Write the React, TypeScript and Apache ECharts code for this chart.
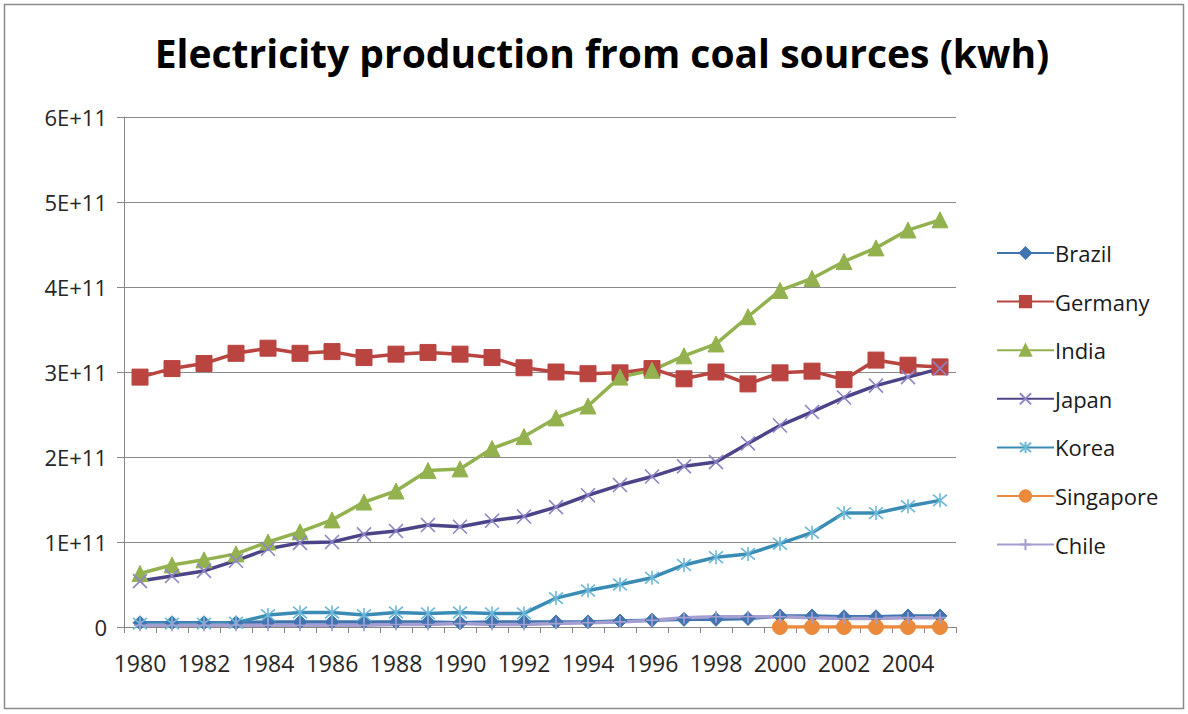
import React, { useEffect, useRef } from "react";
import * as echarts from "echarts";

const years: string[] = [
  "1980","1981","1982","1983","1984","1985","1986","1987","1988","1989",
  "1990","1991","1992","1993","1994","1995","1996","1997","1998","1999",
  "2000","2001","2002","2003","2004","2005",
];

// values in units of 1E+11 kWh
const brazil = [0.05,0.05,0.05,0.05,0.06,0.06,0.06,0.06,0.06,0.06,0.05,0.06,0.06,0.06,0.06,0.07,0.08,0.09,0.09,0.10,0.13,0.13,0.12,0.12,0.13,0.13];
const germany = [2.94,3.04,3.10,3.22,3.28,3.22,3.24,3.17,3.21,3.23,3.21,3.17,3.05,3.00,2.98,2.99,3.04,2.92,3.00,2.86,2.99,3.01,2.91,3.14,3.08,3.06];
const india = [0.63,0.73,0.79,0.86,1.00,1.12,1.26,1.47,1.60,1.84,1.86,2.10,2.24,2.46,2.60,2.94,3.02,3.19,3.33,3.65,3.96,4.10,4.30,4.46,4.67,4.79];
const japan = [0.54,0.60,0.66,0.78,0.92,0.99,1.00,1.09,1.13,1.20,1.18,1.25,1.30,1.41,1.55,1.67,1.77,1.89,1.94,2.16,2.37,2.53,2.70,2.84,2.94,3.04];
const korea = [0.04,0.04,0.04,0.05,0.14,0.17,0.17,0.14,0.17,0.16,0.17,0.16,0.16,0.34,0.43,0.50,0.58,0.73,0.82,0.86,0.98,1.11,1.34,1.34,1.42,1.49];
const singapore = [null,null,null,null,null,null,null,null,null,null,null,null,null,null,null,null,null,null,null,null,0,0,0,0,0,0];
const chile = [0.02,0.02,0.02,0.02,0.02,0.02,0.02,0.02,0.03,0.03,0.04,0.03,0.03,0.04,0.05,0.06,0.08,0.11,0.12,0.12,0.12,0.11,0.10,0.10,0.11,0.11];

const yTicks = ["0", "1E+11", "2E+11", "3E+11", "4E+11", "5E+11", "6E+11"];

const SCALE = 1e11;
const FONT = "'Open Sans', Lato, sans-serif";

const X_SYM = "path://M0 0L10 10M10 0L0 10";
const STAR_SYM = "path://M0 0L10 10M10 0L0 10M5 -1L5 11";
const PLUS_SYM = "path://M5 0L5 10M2 5L8 5";

function toVals(arr: (number | null)[]) {
  return arr.map((v) => (v === null ? null : v * SCALE));
}

export default function App() {
  const ref = useRef<HTMLDivElement>(null);
  useEffect(() => {
    document.body.style.margin = "0";
    if (!ref.current) return;
    const chart = echarts.init(ref.current, null, { renderer: "svg" });

    const mk = (
      name: string,
      data: (number | null)[],
      color: string,
      symbol: string,
      symbolSize: number,
      stroke?: string
    ) => ({
      name,
      type: "line",
      data: toVals(data),
      symbol,
      symbolSize,
      showSymbol: true,
      lineStyle: { color, width: 3.5 },
      itemStyle: stroke
        ? { color: "rgba(0,0,0,0)", borderColor: stroke, borderWidth: 1.6 }
        : { color, borderColor: color, borderWidth: 1 },
      emphasis: { disabled: true },
    });

    const option: any = {
      animation: false,
      backgroundColor: "#ffffff",
      title: {
        text: "Electricity production from coal sources (kwh)",
        left: 597,
        textAlign: "center",
        top: 28,
        textStyle: {
          fontFamily: FONT,
          fontWeight: "bold",
          fontSize: 39,
          color: "#000000",
        },
      },
      graphic: [
        {
          type: "rect",
          shape: { x: 4.5, y: 4.5, width: 1179, height: 704 },
          style: { fill: "none", stroke: "#8a8a8a", lineWidth: 1.5 },
          silent: true,
        },
      ],
      grid: { left: 124, right: 232, top: 117, bottom: 87, containLabel: false },
      legend: {
        orient: "vertical",
        left: 991,
        top: 236,
        itemWidth: 57,
        itemHeight: 14,
        itemGap: 24.6,
        data: ["Brazil", "Germany", "India", "Japan", "Korea", "Singapore", "Chile"],
        textStyle: {
          fontFamily: FONT,
          fontSize: 22,
          lineHeight: 24,
          color: "#1a1a1a",
          padding: [0, 0, 0, -4],
        },
      },
      xAxis: {
        type: "category",
        data: years,
        boundaryGap: true,
        axisLine: { lineStyle: { color: "#868686", width: 1 } },
        axisTick: { show: true, interval: 0, length: 6, lineStyle: { color: "#868686" } },
        axisLabel: {
          interval: 1,
          fontFamily: FONT,
          fontSize: 23,
          color: "#262626",
          margin: 24,
        },
        splitLine: { show: false },
      },
      yAxis: {
        type: "value",
        min: 0,
        max: 6 * SCALE,
        interval: SCALE,
        axisLine: { show: true, lineStyle: { color: "#868686", width: 1 } },
        axisTick: { show: true, length: 7, lineStyle: { color: "#868686" } },
        axisLabel: {
          fontFamily: FONT,
          fontSize: 22,
          color: "#262626",
          margin: 17,
          formatter: (v: number) => yTicks[Math.round(v / SCALE)] ?? "",
        },
        splitLine: { show: true, lineStyle: { color: "#8a8a8a", width: 1 } },
      },
      series: [
        mk("Brazil", brazil, "#3f74b0", "diamond", 14),
        mk("Germany", germany, "#b94440", "rect", 16),
        mk("India", india, "#93b24f", "triangle", 16),
        mk("Japan", japan, "#4c4488", X_SYM, 14, "#8f84c8"),
        mk("Korea", korea, "#3b8cb4", STAR_SYM, 14, "#6db8d8"),
        mk("Singapore", singapore, "#ea8a3a", "circle", 15),
        mk("Chile", chile, "#a59ed0", PLUS_SYM, 12, "#a59ed0"),
      ],
    };
    chart.setOption(option);
    return () => chart.dispose();
  }, []);
  return <div ref={ref} style={{ width: 1188, height: 714 }} />;
}
